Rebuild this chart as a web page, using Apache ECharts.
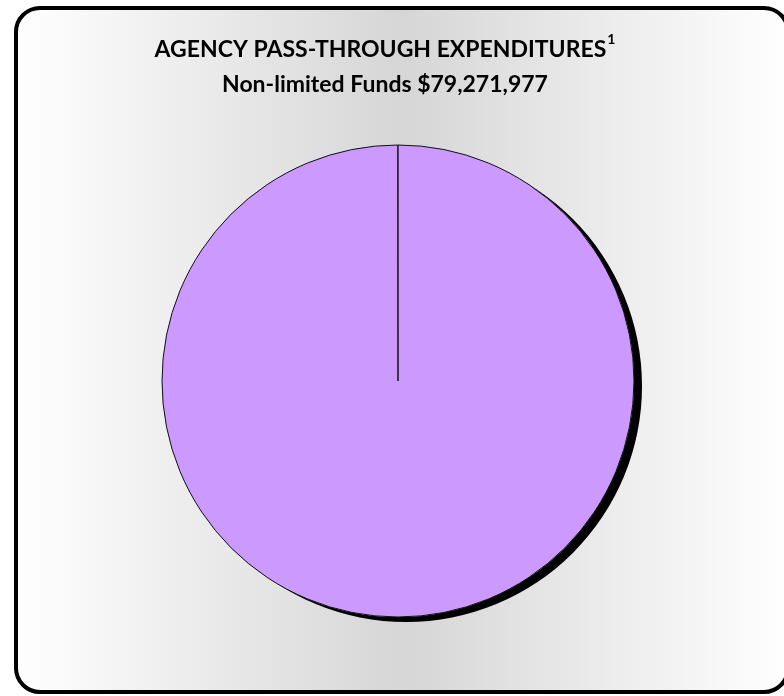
<!DOCTYPE html>
<html>
<head>
<meta charset="utf-8">
<script src="https://cdn.jsdelivr.net/npm/echarts@6/dist/echarts.min.js"></script>
<style>
  html, body { margin: 0; padding: 0; background: #fff; }
  #chart { width: 784px; height: 696px; }
</style>
</head>
<body>
<div id="chart"></div>
<script>
// data
const categories = ['Non-limited Funds'];
const values = [79271977];
const titleLines = ['AGENCY PASS-THROUGH EXPENDITURES', 'Non-limited Funds $79,271,977'];

const chart = echarts.init(document.getElementById('chart'), null, { renderer: 'canvas' });

const pieData = categories.map((name, i) => ({ name, value: values[i] }));

// shared pie geometry
const pieBase = {
  type: 'pie',
  center: [398, 381],
  radius: [0, 236],
  startAngle: 90,
  endAngle: -269.95, // keep it a sector so the start edge is drawn
  label: { show: false },
  labelLine: { show: false },
  emphasis: { disabled: true },
  silent: true
};

const option = {
  animation: false,
  backgroundColor: '#fff',
  graphic: [
    {
      type: 'rect',
      z: -10,
      silent: true,
      shape: { x: 16, y: 8, width: 772, height: 684, r: 24 },
      style: {
        fill: new echarts.graphic.LinearGradient(0, 0, 1, 0, [
          { offset: 0, color: '#ffffff' },
          { offset: 0.5, color: '#d6d6d6' },
          { offset: 1, color: '#ffffff' }
        ]),
        stroke: '#000',
        lineWidth: 4
      }
    }
  ],
  title: {
    left: 380,
    top: 27,
    textAlign: 'center',
    text: '{t|' + titleLines[0] + '}{s|1}\n{t|' + titleLines[1] + '}',
    textStyle: {
      rich: {
        t: { fontFamily: 'Lato', fontWeight: 'bold', fontSize: 23, color: '#000', lineHeight: 35 },
        s: { fontFamily: 'Lato', fontWeight: 'bold', fontSize: 14, color: '#000', verticalAlign: 'top', padding: [0, 0, 10, 1], lineHeight: 35 }
      }
    }
  },
  series: [
    // shadow layer
    Object.assign({}, pieBase, {
      z: 1,
      itemStyle: {
        color: '#cc99ff',
        borderWidth: 0,
        shadowColor: '#000',
        shadowBlur: 0,
        shadowOffsetX: 8,
        shadowOffsetY: 5
      },
      data: pieData
    }),
    // face with outline
    Object.assign({}, pieBase, {
      z: 2,
      itemStyle: {
        color: '#cc99ff',
        borderColor: '#111',
        borderWidth: 1
      },
      data: pieData
    })
  ]
};

chart.setOption(option);
</script>
</body>
</html>
